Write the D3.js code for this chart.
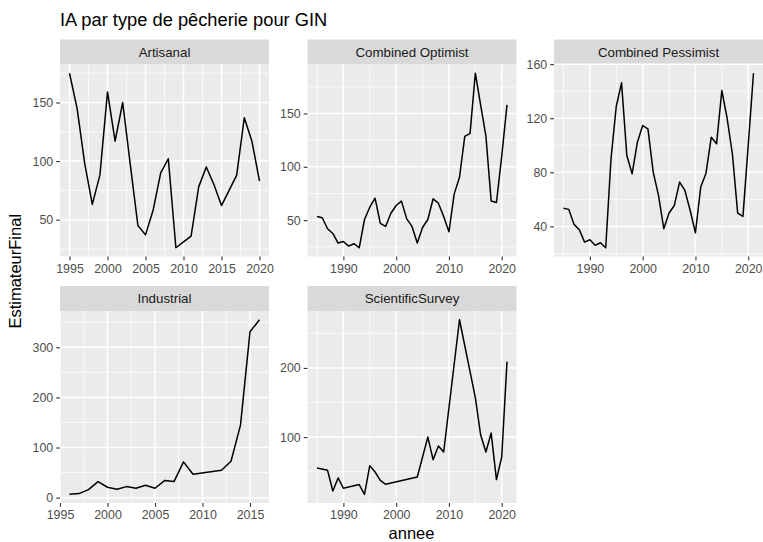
<!DOCTYPE html>
<html>
<head>
<meta charset="utf-8">
<script src="https://cdn.jsdelivr.net/npm/d3@7"></script>
<style>
    body { margin: 0; background: #ffffff; }
    svg { display: block; font-family: 'Liberation Sans', Arial, Helvetica, sans-serif; }
</style>
</head>
<body>
<div id="chart"></div>
<script>
// IA par type de pêcherie - small multiples, one line per fishery type

const titleText = 'IA par type de pêcherie pour GIN';
const xTitle = 'annee';
const yTitle = 'EstimateurFinal';

const facetNames = ['Artisanal', 'Combined Optimist', 'Combined Pessimist', 'Industrial', 'ScientificSurvey'];

const artisanalYears = [1995, 1996, 1997, 1998, 1999, 2000, 2001, 2002, 2003, 2004, 2005, 2006, 2007,
    2008, 2009, 2010, 2011, 2012, 2013, 2014, 2015, 2016, 2017, 2018, 2019, 2020];
const artisanalValues = [175, 145, 98, 63, 88, 159, 117, 150, 97, 45, 37, 58, 90,
    102, 26, 31, 36, 78, 95, 80, 62, 75, 88, 137, 117, 83];

const combinedYears = [1985, 1986, 1987, 1988, 1989, 1990, 1991, 1992, 1993, 1994, 1995, 1996, 1997,
    1998, 1999, 2000, 2001, 2002, 2003, 2004, 2005, 2006, 2007, 2008, 2009, 2010, 2011, 2012, 2013,
    2014, 2015, 2016, 2017, 2018, 2019, 2020, 2021];
const optimistValues = [53.4, 52.2, 41.9, 37.5, 28.5, 30, 25.7, 27.9, 24.1, 50.6, 62.1, 70.6, 46.9,
    44.1, 56.5, 63.7, 67.8, 51.2, 44.1, 28.5, 43.1, 50.6, 70, 65.9, 53.4, 39.1, 74.6, 90.2, 128.5,
    131.3, 187.7, 158, 129, 68, 66.5, 110, 158];
const pessimistValues = [53.5, 52.6, 41.5, 37.5, 28.4, 30.1, 26, 27.9, 24.2, 90, 128.9, 146.2, 92.5,
    78.9, 102.3, 114.6, 112.2, 80.1, 62.9, 38.3, 49.9, 55.5, 72.8, 66.6, 51.8, 35.3, 69.1, 79.4, 106,
    101.1, 140.5, 120, 93.7, 49.9, 47.4, 100, 153.3];

const industrialYears = [1996, 1997, 1998, 1999, 2000, 2001, 2002, 2003, 2004, 2005, 2006, 2007,
    2008, 2009, 2012, 2013, 2014, 2015, 2016];
const industrialValues = [6.7, 8, 16, 32, 20.7, 16.7, 22, 18.7, 24.7, 18.7, 34, 32,
    71.3, 46.7, 54.7, 72.7, 144.7, 331, 355];

const surveyYears = [1985, 1987, 1988, 1989, 1990, 1993, 1994, 1995, 1996, 1997, 1998, 2004, 2006,
    2007, 2008, 2009, 2012, 2015, 2016, 2017, 2018, 2019, 2020, 2021];
const surveyValues = [55.3, 51.9, 22.1, 40.9, 26, 31.3, 17.3, 58.7, 49.5, 37.5, 31.7, 42.3, 100,
    67.3, 87, 78.4, 269.7, 157, 103.4, 78.4, 105.8, 38.5, 71.2, 209.1];

// tick labels per panel
const artisanalXTicks = [1995, 2000, 2005, 2010, 2015, 2020];
const artisanalYTicks = [50, 100, 150];
const combinedXTicks = [1990, 2000, 2010, 2020];
const optimistYTicks = [50, 100, 150];
const pessimistYTicks = [40, 80, 120, 160];
const industrialXTicks = [1995, 2000, 2005, 2010, 2015];
const industrialYTicks = [0, 100, 200, 300];
const surveyYTicks = [100, 200];

const W = 763, H = 542;
const panelLefts = [60, 307.5, 554];
const panelW = 209;
const rowTops = [39.5, 286];   // top of the strip
const stripH = 25;
const panelH = 192;
const fontFamily = "'Liberation Sans', Arial, Helvetica, sans-serif";

const facets = [
    { name: facetNames[0], years: artisanalYears, values: artisanalValues, xTicks: artisanalXTicks, yTicks: artisanalYTicks, col: 0, row: 0 },
    { name: facetNames[1], years: combinedYears, values: optimistValues, xTicks: combinedXTicks, yTicks: optimistYTicks, col: 1, row: 0 },
    { name: facetNames[2], years: combinedYears, values: pessimistValues, xTicks: combinedXTicks, yTicks: pessimistYTicks, col: 2, row: 0 },
    { name: facetNames[3], years: industrialYears, values: industrialValues, xTicks: industrialXTicks, yTicks: industrialYTicks, col: 0, row: 1 },
    { name: facetNames[4], years: surveyYears, values: surveyValues, xTicks: combinedXTicks, yTicks: surveyYTicks, col: 1, row: 1 }
];

const svg = d3.select('#chart').append('svg')
    .attr('width', W)
    .attr('height', H);

svg.append('text')
    .attr('x', 60)
    .attr('y', 26)
    .attr('font-size', 18.3)
    .attr('fill', '#000000')
    .text(titleText);

// ggplot style 5% expansion
function expanded(ext) {
    const pad = (ext[1] - ext[0]) * 0.05;
    return [ext[0] - pad, ext[1] + pad];
}

// minor breaks halfway between majors, kept inside the domain
function minorBreaks(major, domain) {
    const step = major[1] - major[0];
    const out = [];
    for (let v = major[0] - step / 2; v <= major[major.length - 1] + step / 2 + 1e-9; v += step) {
        if (v >= domain[0] && v <= domain[1]) out.push(v);
    }
    return out;
}

facets.forEach(f => {
    const left = panelLefts[f.col];
    const stripTop = rowTops[f.row];
    const top = stripTop + stripH;

    const x = d3.scaleLinear().domain(expanded(d3.extent(f.years))).range([left, left + panelW]);
    const y = d3.scaleLinear().domain(expanded(d3.extent(f.values))).range([top + panelH, top]);

    const g = svg.append('g');

    // strip
    g.append('rect')
        .attr('x', left).attr('y', stripTop)
        .attr('width', panelW).attr('height', stripH)
        .attr('fill', '#D9D9D9');
    g.append('text')
        .attr('x', left + panelW / 2)
        .attr('y', stripTop + stripH / 2)
        .attr('dy', '0.35em')
        .attr('text-anchor', 'middle')
        .attr('font-size', 13.3)
        .attr('fill', '#1A1A1A')
        .text(f.name);

    // panel background
    g.append('rect')
        .attr('x', left).attr('y', top)
        .attr('width', panelW).attr('height', panelH)
        .attr('fill', '#EBEBEB');

    const xMinor = minorBreaks(f.xTicks, x.domain());
    const yMinor = minorBreaks(f.yTicks, y.domain());

    g.selectAll('line.xminor').data(xMinor).enter().append('line')
        .attr('x1', d => x(d)).attr('x2', d => x(d))
        .attr('y1', top).attr('y2', top + panelH)
        .attr('stroke', '#ffffff').attr('stroke-width', 0.75);
    g.selectAll('line.yminor').data(yMinor).enter().append('line')
        .attr('x1', left).attr('x2', left + panelW)
        .attr('y1', d => y(d)).attr('y2', d => y(d))
        .attr('stroke', '#ffffff').attr('stroke-width', 0.75);
    g.selectAll('line.xmajor').data(f.xTicks).enter().append('line')
        .attr('x1', d => x(d)).attr('x2', d => x(d))
        .attr('y1', top).attr('y2', top + panelH)
        .attr('stroke', '#ffffff').attr('stroke-width', 1.5);
    g.selectAll('line.ymajor').data(f.yTicks).enter().append('line')
        .attr('x1', left).attr('x2', left + panelW)
        .attr('y1', d => y(d)).attr('y2', d => y(d))
        .attr('stroke', '#ffffff').attr('stroke-width', 1.5);

    // data line
    const pts = f.years.map((yr, i) => [yr, f.values[i]]);
    g.append('path')
        .datum(pts)
        .attr('fill', 'none')
        .attr('stroke', '#000000')
        .attr('stroke-width', 1.5)
        .attr('stroke-linejoin', 'round')
        .attr('d', d3.line().x(d => x(d[0])).y(d => y(d[1])));

    // axes
    const xAxis = d3.axisBottom(x).tickValues(f.xTicks).tickFormat(d3.format('d')).tickSize(3.8).tickPadding(3.5);
    const yAxis = d3.axisLeft(y).tickValues(f.yTicks).tickFormat(d3.format('d')).tickSize(3.8).tickPadding(3);

    const gx = g.append('g').attr('transform', `translate(0,${top + panelH})`).call(xAxis);
    const gy = g.append('g').attr('transform', `translate(${left},0)`).call(yAxis);

    [gx, gy].forEach(a => {
        a.select('.domain').remove();
        a.selectAll('.tick line').attr('stroke', '#333333').attr('stroke-width', 1.1);
        a.selectAll('.tick text')
            .attr('fill', '#4D4D4D')
            .attr('font-size', 12.4)
            .attr('font-family', fontFamily);
    });
});

// axis titles
svg.append('text')
    .attr('x', (60 + W) / 2)
    .attr('y', 539)
    .attr('text-anchor', 'middle')
    .attr('font-size', 16.5)
    .attr('fill', '#000000')
    .text(xTitle);

svg.append('text')
    .attr('transform', `translate(21,${(rowTops[0] + rowTops[1] + stripH + panelH) / 2}) rotate(-90)`)
    .attr('text-anchor', 'middle')
    .attr('font-size', 16.5)
    .attr('fill', '#000000')
    .text(yTitle);
</script>
</body>
</html>
